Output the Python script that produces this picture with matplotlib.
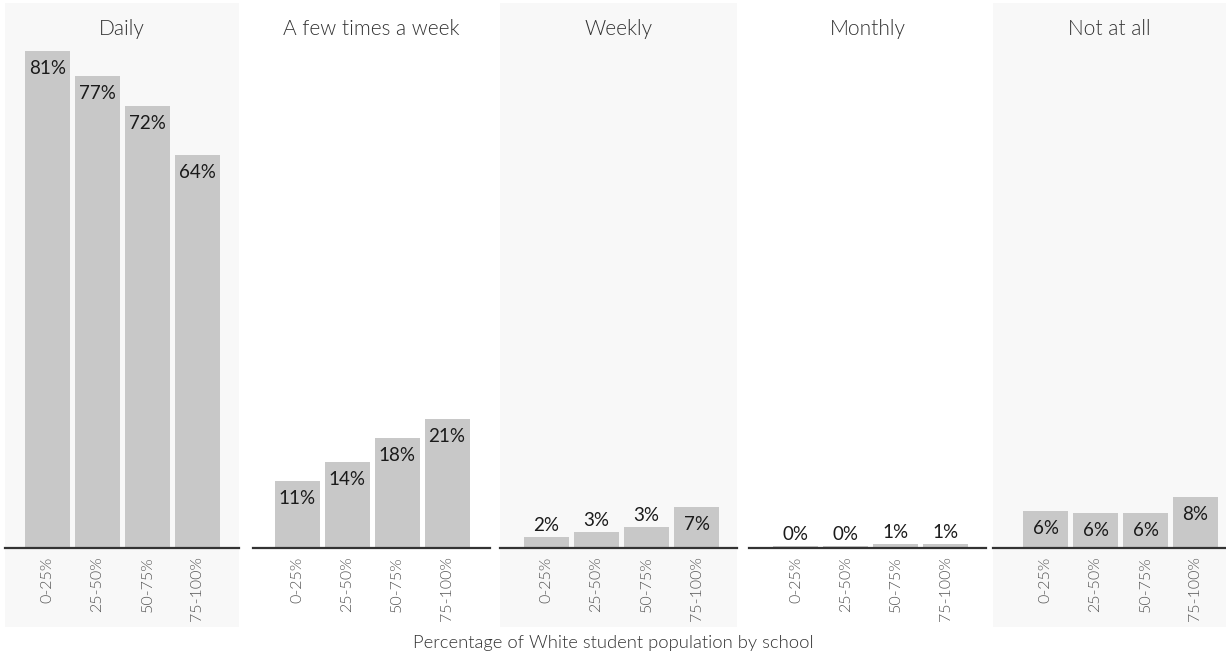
import matplotlib
matplotlib.use("Agg")
import matplotlib.pyplot as plt
from matplotlib.patches import Rectangle
from matplotlib import font_manager as fm

plt.rcParams['font.family'] = ['Lato', 'DejaVu Sans']

facets = ["Daily", "A few times a week", "Weekly", "Monthly", "Not at all"]
categories = ["0-25%", "25-50%", "50-75%", "75-100%"]
daily = [81, 77, 72, 64]
few_times_week = [11, 14, 18, 21]
weekly = [1.8, 2.6, 3.4, 6.7]
monthly = [0.4, 0.4, 0.6, 0.6]
not_at_all = [6.0, 5.7, 5.7, 8.3]
labels = [
    ["81%", "77%", "72%", "64%"],
    ["11%", "14%", "18%", "21%"],
    ["2%", "3%", "3%", "7%"],
    ["0%", "0%", "1%", "1%"],
    ["6%", "6%", "6%", "8%"],
]
series = [daily, few_times_week, weekly, monthly, not_at_all]
x_title = "Percentage of White student population by school"

# pick a Lato Light face if one is installed
light_file = None
for f in fm.fontManager.ttflist:
    if f.name == "Lato" and f.weight in (300, "light") and f.style == "normal":
        light_file = f.fname
        break

def light_props(size):
    if light_file:
        return fm.FontProperties(fname=light_file, size=size)
    return fm.FontProperties(family="Lato", size=size)

W, H = 1226, 653
fig = plt.figure(figsize=(W / 100, H / 100), dpi=100)
fig.patch.set_facecolor("white")

BAR = "#c8c8c8"
BG = "#f8f8f8"
ymax = max(daily)

def fx(px):
    return px / W

def fy(py):
    return 1 - py / H

panel_left = [5, 253, 500, 749, 993]
panel_right = [239, 490, 737, 986, 1226]
bar_start = 25
bar_step_px = 249.5
unit = 50.0
base_y = 548
top_y = 51

bg_ax = fig.add_axes([0, 0, 1, 1], zorder=-5)
bg_ax.set_xlim(0, W)
bg_ax.set_ylim(H, 0)
bg_ax.axis("off")

for i, (name, vals, labs) in enumerate(zip(facets, series, labels)):
    L, R = panel_left[i], panel_right[i]
    if i % 2 == 0:
        bg_ax.add_patch(Rectangle((L, 3), R - L, 624, facecolor=BG,
                                  edgecolor="none"))
    ax = fig.add_axes([fx(L), fy(base_y), fx(R - L), (base_y - top_y) / H])
    ax.set_facecolor("none")
    xs = list(range(len(categories)))
    ax.bar(xs, vals, width=0.9, color=BAR, zorder=2)
    first_center = bar_start + i * bar_step_px + 22.5
    lo = -(first_center - L) / unit
    ax.set_xlim(lo, lo + (R - L) / unit)
    ax.set_ylim(0, ymax)
    for s in ["top", "right", "left"]:
        ax.spines[s].set_visible(False)
    ax.spines["bottom"].set_color("#333333")
    ax.spines["bottom"].set_linewidth(1.6)
    ax.spines["bottom"].set_zorder(3)
    ax.set_yticks([])
    ax.set_xticks(xs)
    ax.set_xticklabels(categories, rotation=90, color="#555555")
    for t in ax.get_xticklabels():
        t.set_fontproperties(light_props(11.5))
    ax.tick_params(axis="x", length=0, pad=6)
    for x, v, lab in zip(xs, vals, labs):
        if v >= 5:
            ax.annotate(lab, (x, v), xytext=(0, -9), textcoords="offset pixels",
                        ha="center", va="top", fontsize=13.5, color="#1a1a1a",
                        zorder=4)
        else:
            ax.annotate(lab, (x, v), xytext=(0, 3), textcoords="offset pixels",
                        ha="center", va="bottom", fontsize=13.5, color="#1a1a1a",
                        zorder=4)
    fig.text(fx((L + R) / 2), fy(29), name, ha="center", va="center",
             fontproperties=light_props(15), color="#333333")

fig.text(0.5, fy(643), x_title, ha="center", va="center",
         fontproperties=light_props(13.2), color="#333333")

fig.savefig("out.png", dpi=100, facecolor="white")
